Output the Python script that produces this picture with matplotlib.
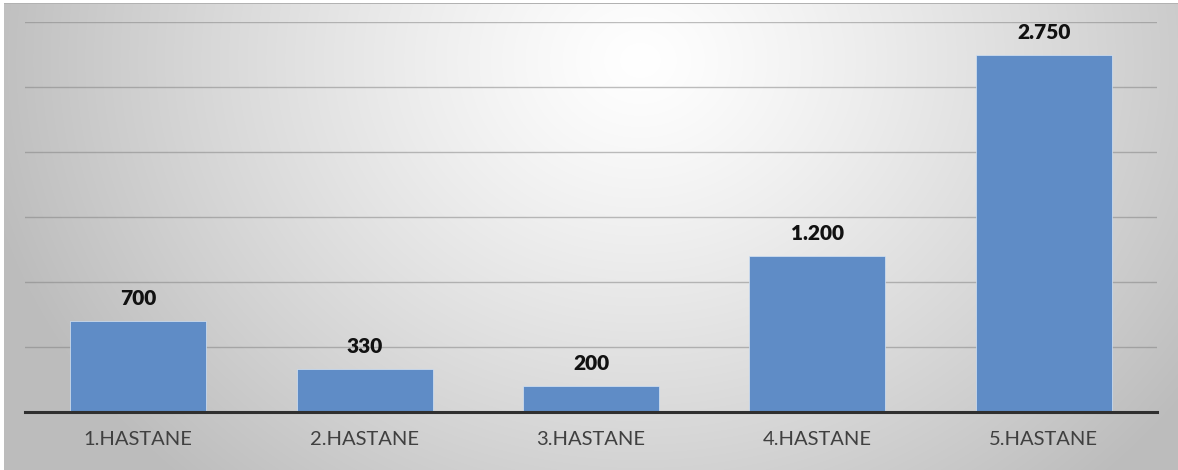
import numpy as np
import matplotlib.pyplot as plt

# hospital counts
hospitals = ['1.HASTANE', '2.HASTANE', '3.HASTANE', '4.HASTANE', '5.HASTANE']
counts = [700, 330, 200, 1200, 2750]
value_labels = ['700', '330', '200', '1.200', '2.750']

W, H = 1178, 470
fig = plt.figure(figsize=(W / 100, H / 100), dpi=100)
fig.patch.set_facecolor('white')

# soft radial gray background behind the chart
bg = fig.add_axes([0, 0, 1, 1], zorder=-5)
yy, xx = np.mgrid[0:H, 0:W]
r = np.sqrt(((xx - 640) / 700.0) ** 2 + ((yy - 60) / 600.0) ** 2)
shade = np.clip(255 - 70 * r ** 1.2, 188, 255) / 255.0
img = np.dstack([shade, shade, shade])
img[:3, :, :] = 1.0
img[:, :4, :] = 1.0
img[3, 4:, :] = 0.70
bg.imshow(img, extent=[0, W, H, 0], aspect='auto', interpolation='bilinear')
bg.set_xlim(0, W)
bg.set_ylim(H, 0)
bg.axis('off')

ax = fig.add_axes([25 / W, (H - 412) / H, (1157 - 25) / W, (412 - 22) / H])
ax.set_facecolor('none')

x = np.arange(len(hospitals))
ax.bar(x, counts, width=0.6, color='#5f8cc6', edgecolor='#d6e4f4',
       linewidth=0.5, zorder=3)

for xi, v, lab in zip(x, counts, value_labels):
    ax.annotate(lab, (xi, v), xytext=(0, 11.5), textcoords='offset points',
                ha='center', va='baseline', fontsize=15, fontweight='heavy',
                family='Lato', color='#111111')

ax.set_xlim(-0.5, len(hospitals) - 0.5)
ax.set_ylim(0, 3000)
ax.set_yticks(np.arange(0, 3001, 500))
ax.yaxis.grid(True, color='#7f7f7f', alpha=0.5, linewidth=1.0, zorder=0)
ax.set_axisbelow(True)
ax.tick_params(axis='y', left=False, labelleft=False)
ax.set_xticks(x)
ax.set_xticklabels(hospitals, fontsize=14.5, family='Lato', color='#404040')
ax.tick_params(axis='x', length=0, pad=14)

for s in ['top', 'right', 'left']:
    ax.spines[s].set_visible(False)
ax.spines['bottom'].set_color('#2f2f2f')
ax.spines['bottom'].set_linewidth(2.2)
ax.spines['bottom'].set_zorder(4)

fig.savefig('out.png', dpi=100)
